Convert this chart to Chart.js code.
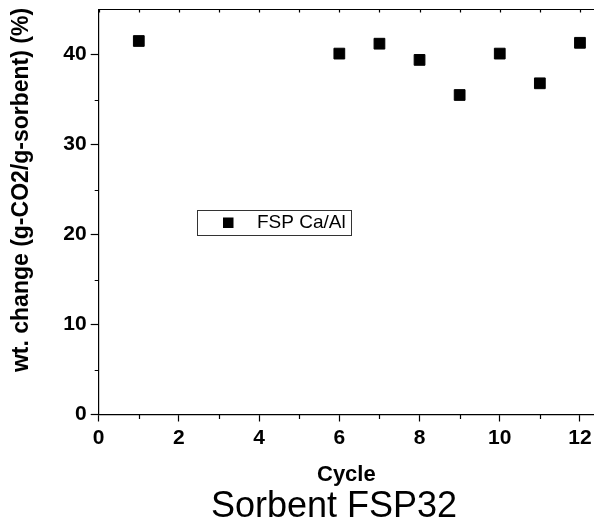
<!DOCTYPE html>
<html>
<head>
<meta charset="utf-8">
<script src="https://cdn.jsdelivr.net/npm/chart.js@4.4.0/dist/chart.umd.min.js"></script>
<style>
  html, body { margin: 0; padding: 0; background: #fff; }
  canvas { display: block; }
</style>
</head>
<body>
<canvas id="myChart" width="594" height="522"></canvas>
<script>
// data
const cycles = [1, 6, 7, 8, 9, 10, 11, 12];
const wtChange = [41.5, 40.1, 41.2, 39.4, 35.5, 40.1, 36.8, 41.3];
const seriesLabel = "FSP Ca/Al";

// axes
const xTicks = [0, 2, 4, 6, 8, 10, 12];
const xMinorTicks = [1, 3, 5, 7, 9, 11];
const topTicks = [0, 1, 2, 3, 4, 5, 6, 7, 8, 9, 10, 11, 12];
const yTicks = [0, 10, 20, 30, 40];
const yMinorTicks = [5, 15, 25, 35];
const xTitle = "Cycle";
const yTitle = "wt. change (g-CO2/g-sorbent) (%)";
const caption = "Sorbent FSP32";

const FONT = "'Liberation Sans', Arial, sans-serif";

// no extra room for label overhang, the frame is placed by hand
function noPadding(scale) {
  scale.paddingTop = 0;
  scale.paddingBottom = 0;
  scale.paddingLeft = 0;
  scale.paddingRight = 0;
}

// top frame line, minor ticks, legend box and the rotated / bottom texts
const framePlugin = {
  id: "frame",
  afterDraw(chart) {
    const { ctx, chartArea, scales } = chart;
    const x = scales.x;
    const y = scales.y;
    ctx.save();
    ctx.strokeStyle = "#000";
    ctx.lineWidth = 1.2;
    ctx.beginPath();
    ctx.moveTo(chartArea.left, chartArea.top);
    ctx.lineTo(chartArea.right, chartArea.top);
    topTicks.forEach((v) => {
      const px = Math.round(x.getPixelForValue(v)) + 0.5;
      ctx.moveTo(px, chartArea.top);
      ctx.lineTo(px, chartArea.top + 3);
    });
    xMinorTicks.forEach((v) => {
      const px = Math.round(x.getPixelForValue(v)) + 0.5;
      ctx.moveTo(px, chartArea.bottom);
      ctx.lineTo(px, chartArea.bottom + 4.5);
    });
    yMinorTicks.forEach((v) => {
      const py = Math.round(y.getPixelForValue(v)) + 0.5;
      ctx.moveTo(chartArea.left - 4, py);
      ctx.lineTo(chartArea.left, py);
    });
    ctx.stroke();

    // legend box
    ctx.lineWidth = 1;
    ctx.strokeStyle = "#333";
    ctx.strokeRect(197.5, 210.5, 154, 25);
    ctx.fillStyle = "#000";
    ctx.fillRect(223, 217.5, 10.5, 10.5);
    ctx.font = "19px " + FONT;
    ctx.textAlign = "left";
    ctx.textBaseline = "middle";
    ctx.fillText(chart.data.datasets[0].label, 257, 223);

    // y axis title
    ctx.save();
    ctx.translate(22, 190);
    ctx.rotate(-Math.PI / 2);
    ctx.font = "bold 23px " + FONT;
    ctx.textAlign = "center";
    ctx.textBaseline = "middle";
    ctx.fillText(yTitle, 0, 0);
    ctx.restore();

    // caption under the chart
    ctx.font = "36px " + FONT;
    ctx.textAlign = "center";
    ctx.textBaseline = "alphabetic";
    ctx.fillText(caption, 334, 516.5);
    ctx.restore();
  }
};

const ctx = document.getElementById("myChart");

new Chart(ctx, {
  type: "scatter",
  data: {
    datasets: [{
      label: seriesLabel,
      data: cycles.map((c, i) => ({ x: c, y: wtChange[i] })),
      pointStyle: "rect",
      pointRadius: 7.6,
      backgroundColor: "#000",
      borderColor: "#000",
      borderWidth: 1,
      showLine: false
    }]
  },
  options: {
    responsive: false,
    animation: false,
    devicePixelRatio: 1,
    layout: { autoPadding: false, padding: { top: 9.5, right: 0, bottom: 36, left: 0 } },
    plugins: {
      legend: { display: false },
      tooltip: { enabled: false },
      title: { display: false }
    },
    scales: {
      x: {
        type: "linear",
        min: 0,
        max: 12.35,
        afterBuildTicks: (scale) => { scale.ticks = xTicks.map((v) => ({ value: v })); },
        afterFit: (scale) => { scale.height = 71.5; noPadding(scale); },
        ticks: {
          autoSkip: false,
          maxRotation: 0,
          padding: 4,
          color: "#000",
          font: { family: FONT, size: 21, weight: "bold" }
        },
        grid: { drawOnChartArea: false, tickLength: 7, tickColor: "#000", tickWidth: 1.2 },
        border: { color: "#000", width: 1.2 },
        title: {
          display: true,
          text: xTitle,
          color: "#000",
          font: { family: FONT, size: 22, weight: "bold", lineHeight: 1 },
          padding: { top: 0, bottom: 0 }
        }
      },
      y: {
        type: "linear",
        min: 0,
        max: 45,
        afterBuildTicks: (scale) => { scale.ticks = yTicks.map((v) => ({ value: v })); },
        afterFit: (scale) => { scale.width = 98.7; noPadding(scale); },
        ticks: {
          padding: 4,
          color: "#000",
          font: { family: FONT, size: 21, weight: "bold" }
        },
        grid: { drawOnChartArea: false, tickLength: 8, tickColor: "#000", tickWidth: 1.2 },
        border: { color: "#000", width: 1.2 }
      }
    }
  },
  plugins: [framePlugin]
});
</script>
</body>
</html>
